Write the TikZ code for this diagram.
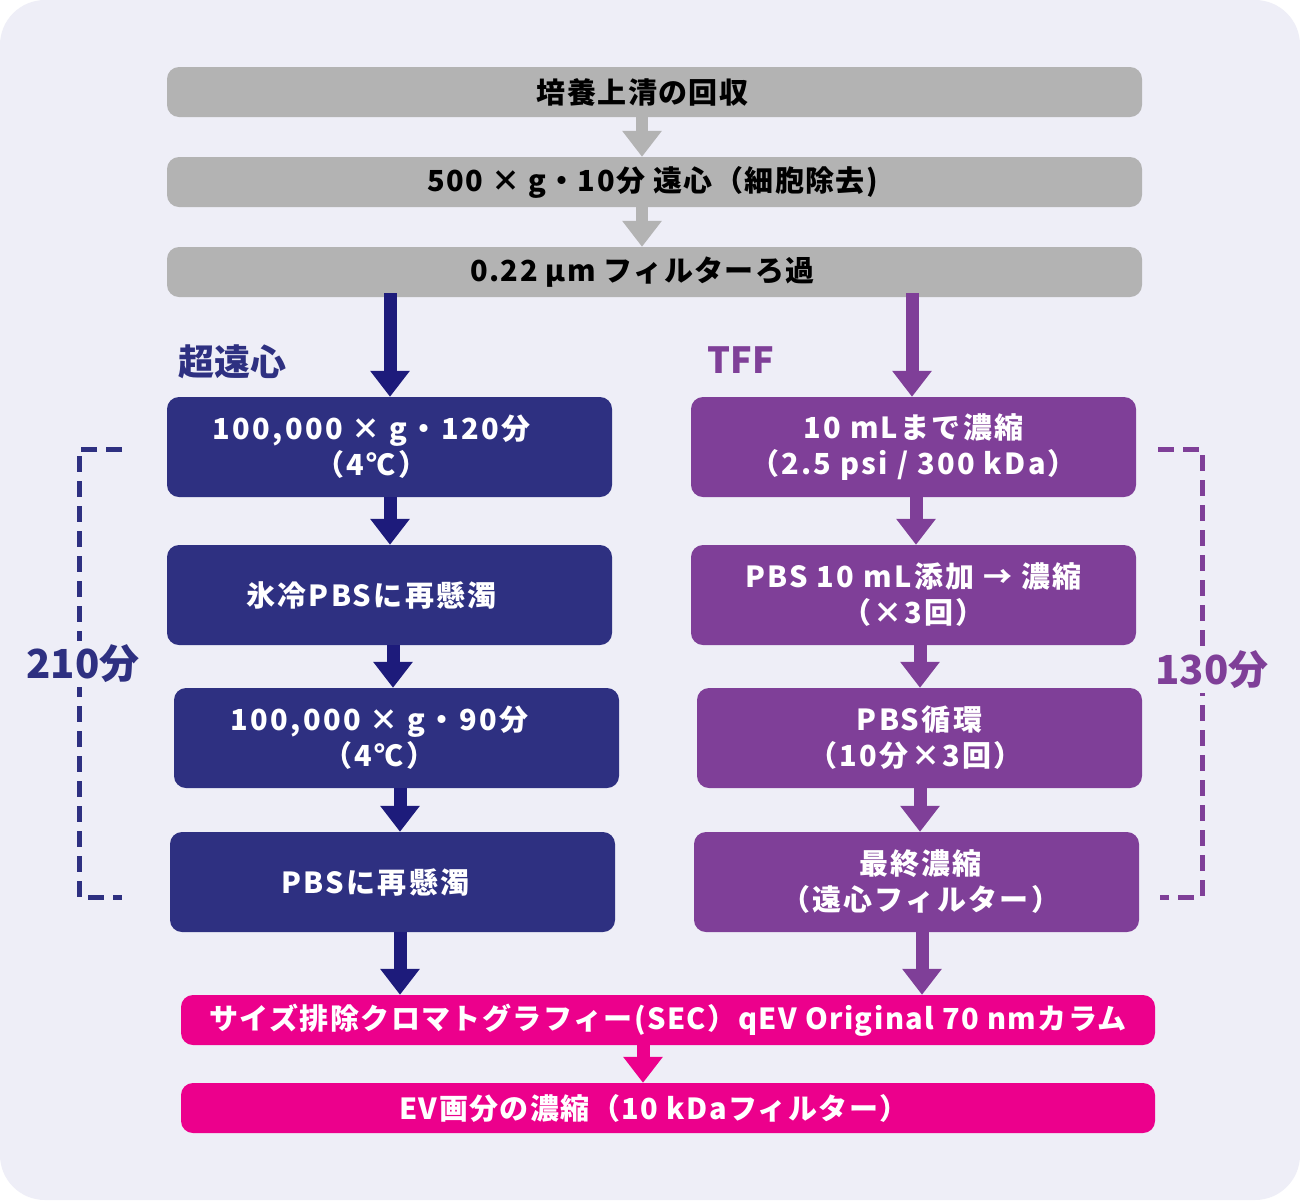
\documentclass[tikz,border=0pt]{standalone}
\usepackage{fontspec}
\setmainfont{Noto Sans CJK JP}
\usetikzlibrary{arrows.meta,calc}
\definecolor{bgc}{HTML}{EEEEF7}
\definecolor{grayc}{HTML}{B3B3B3}
\definecolor{navyc}{HTML}{2E3081}
\definecolor{navyarr}{HTML}{1D1B7B}
\definecolor{purpc}{HTML}{7F3F98}
\definecolor{pinkc}{HTML}{EC008C}
\newcommand\tshift[1]{\hspace*{#1pt}}
\tikzset{
  box/.style={rounded corners=12pt, inner sep=0pt, align=center},
  widefont/.style={font=\fontsize{29}{36}\selectfont\bfseries\addfontfeatures{LetterSpace=5}},
  colfont/.style={font=\fontsize{29}{36}\selectfont\bfseries\addfontfeatures{LetterSpace=8}},
  graybox/.style={box, widefont, fill=grayc, text=black, minimum width=975pt, minimum height=50pt},
  navybox/.style={box, colfont, fill=navyc, text=white, minimum width=445pt, minimum height=100pt},
  purpbox/.style={box, colfont, fill=purpc, text=white, minimum width=445pt, minimum height=100pt},
  pinkbox/.style={box, widefont, fill=pinkc, text=white, minimum width=974pt, minimum height=50pt},
  bigarr/.style={line width=13pt, -{Triangle[width=38pt,length=26pt]}},
  gar/.style={bigarr, draw=grayc, line width=12pt},
  nar/.style={bigarr, draw=navyarr},
  par/.style={bigarr, draw=purpc},
  kar/.style={bigarr, draw=pinkc},
  bracket/.style={line width=5pt, dash pattern=on 16pt off 9pt},
  blabel/.style={fill=bgc, inner sep=4pt, font=\fontsize{40}{40}\selectfont\bfseries},
  head/.style={inner sep=0pt, font=\fontsize{36}{36}\selectfont\bfseries},
}
\begin{document}
\begin{tikzpicture}[x=1pt,y=-1pt]
\fill[white] (0,0) rectangle (1300,1200);
\useasboundingbox (0,0) rectangle (1300,1200);
\fill[bgc, rounded corners=45pt] (0,0) rectangle (1300,1200);

\node[graybox] (g1) at (654.5,92) {培養上清の回収\tshift{24}};
\node[graybox] (g2) at (654.5,182) {500 × g・10分 遠心（細胞除去)\tshift{4}};
\node[graybox] (g3) at (654.5,272) {0.22 µm フィルターろ過\tshift{24}};

\node[navybox] (n1) at (389.5,447) {100,000 × g・120分\tshift{36}\\（4℃）\tshift{36}};
\node[navybox] (n2) at (389.5,595) {氷冷PBSに再懸濁\tshift{36}};
\node[navybox] (n3) at (396.5,738) {100,000 × g・90分\tshift{34}\\（4℃）\tshift{34}};
\node[navybox] (n4) at (392.5,882) {PBSに再懸濁\tshift{34}};

\node[purpbox] (p1) at (913.5,447) {10 mLまで濃縮\\（2.5 psi / 300 kDa）};
\node[purpbox] (p2) at (913.5,595) {PBS 10 mL添加 → 濃縮\\（×3回）};
\node[purpbox] (p3) at (919.5,738) {PBS循環\\（10分×3回）\tshift{8}};
\node[purpbox] (p4) at (916.5,882) {\tshift{8}最終濃縮\\\tshift{8}（遠心フィルター）};

\node[pinkbox] (s1) at (668,1020) {サイズ排除クロマトグラフィー(SEC）qEV Original 70 nmカラム};
\node[pinkbox] (s2) at (668,1108) {EV画分の濃縮（10 kDaフィルター）\tshift{28}};

\node[head, text=navyc] (hu) at (232,362) {超遠心};
\node[head, text=purpc] (ht) at (741,360) {TFF};

% arrows
\draw[gar] (g1.south -| 642,0) -- (g2.north -| 642,0);
\draw[gar] (g2.south -| 642,0) -- (g3.north -| 642,0);
\draw[nar] ([yshift=4pt]g3.south -| 390,0) -- (n1.north -| 390,0);
\draw[par] ([yshift=4pt]g3.south -| 912,0) -- (p1.north -| 912,0);
\draw[nar] (n1.south -| 390,0) -- (n2.north -| 390,0);
\draw[nar] (n2.south -| 393,0) -- (n3.north -| 393,0);
\draw[nar] (n3.south -| 400,0) -- (n4.north -| 400,0);
\draw[nar] (n4.south -| 400,0) -- (s1.north -| 400,0);
\draw[par] (p1.south -| 916,0) -- (p2.north -| 916,0);
\draw[par] (p2.south -| 920,0) -- (p3.north -| 920,0);
\draw[par] (p3.south -| 920,0) -- (p4.north -| 920,0);
\draw[par] (p4.south -| 922,0) -- (s1.north -| 922,0);
\draw[kar] (s1.south -| 643,0) -- (s2.north -| 643,0);

% brackets
\coordinate (la) at (122,449);
\coordinate (lb) at (122,897);
\draw[bracket, draw=navyc] (la) -- (79,449) -- (79,897) -- (lb);
\node[blabel, text=navyc] (l210) at (83,664) {210分};
\coordinate (ra) at (1158,449);
\coordinate (rb) at (1160,897);
\draw[bracket, draw=purpc] (ra) -- (1202,449) -- (1202,897) -- (rb);
\node[blabel, text=purpc] (l130) at (1212,670) {130分};
\end{tikzpicture}
\end{document}
